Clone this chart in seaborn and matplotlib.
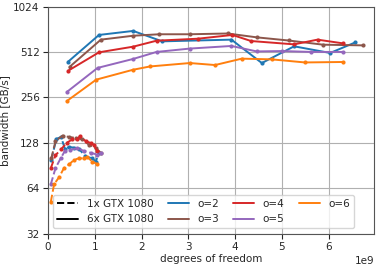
import numpy as np
import pandas as pd
import matplotlib
matplotlib.use("Agg")
import matplotlib.pyplot as plt
import seaborn as sns
from matplotlib.lines import Line2D
from matplotlib.ticker import ScalarFormatter, FixedLocator

# ordres polynomiaux et couleurs
orders = [2, 3, 4, 5, 6]
colors = {2: "#1f77b4", 3: "#8c564b", 4: "#d62728", 5: "#9467bd", 6: "#ff7f0e"}

# 6x GTX 1080 (lignes pleines), x en 1e9 degrés de liberté
multi_x = {
    2: [0.43, 1.09, 1.82, 2.44, 3.92, 4.57, 5.26, 6.03, 6.57],
    3: [0.46, 1.13, 1.82, 2.38, 3.03, 3.84, 4.46, 5.14, 5.88, 6.74],
    4: [0.43, 1.09, 1.82, 2.32, 3.21, 3.94, 4.34, 5.26, 5.76, 6.30],
    5: [0.40, 1.06, 1.82, 2.32, 3.03, 3.92, 4.46, 5.01, 5.63, 6.30],
    6: [0.40, 1.03, 1.82, 2.18, 3.03, 3.57, 4.14, 4.78, 5.49, 6.30],
}
multi_bw = {
    2: [442, 665, 707, 603, 619, 433, 559, 505, 594],
    3: [408, 619, 657, 672, 672, 680, 641, 611, 573, 567],
    4: [385, 510, 556, 609, 628, 665, 606, 576, 619, 585],
    5: [278, 402, 461, 513, 540, 562, 517, 520, 513, 513],
    6: [242, 336, 391, 411, 433, 420, 463, 458, 437, 440],
}

# 1x GTX 1080 (lignes pointillées)
single_x = {
    2: [0.07, 0.18, 0.28, 0.36, 0.45, 0.56, 0.66, 0.80, 0.95, 1.02, 1.09],
    3: [0.07, 0.16, 0.31, 0.45, 0.59, 0.73, 0.88, 1.02, 1.13],
    4: [0.06, 0.16, 0.28, 0.40, 0.52, 0.63, 0.68, 0.81, 0.91, 0.98, 1.05],
    5: [0.06, 0.16, 0.27, 0.36, 0.48, 0.63, 0.77, 0.91, 1.05, 1.13],
    6: [0.06, 0.13, 0.24, 0.34, 0.45, 0.56, 0.66, 0.77, 0.84, 0.95, 1.04],
}
single_bw = {
    2: [99, 136, 140, 117, 120, 119, 117, 104, 101, 96, 110],
    3: [101, 131, 143, 140, 138, 135, 124, 118, 110],
    4: [87, 106, 116, 128, 135, 135, 142, 131, 128, 124, 113],
    5: [68, 87, 101, 113, 115, 118, 113, 110, 107, 110],
    6: [52, 68, 76, 87, 92, 99, 101, 101, 103, 96, 93],
}

yticks = [32, 64, 128, 256, 512, 1024]

sns.set_style("ticks")
plt.rcParams["font.family"] = ["DejaVu Sans"]
plt.rcParams["font.size"] = 7.5
plt.rcParams["xtick.major.pad"] = 2.5
plt.rcParams["ytick.major.pad"] = 2.5

fig, ax = plt.subplots(figsize=(3.81, 2.67), dpi=100)

for o in orders:
    df1 = pd.DataFrame({"dof": np.array(single_x[o]) * 1e9, "bw": single_bw[o]})
    sns.lineplot(data=df1, x="dof", y="bw", ax=ax, color=colors[o], linestyle="--",
                 marker="o", markersize=3, markeredgewidth=0, linewidth=1.4, legend=False)
    df6 = pd.DataFrame({"dof": np.array(multi_x[o]) * 1e9, "bw": multi_bw[o]})
    sns.lineplot(data=df6, x="dof", y="bw", ax=ax, color=colors[o], linestyle="-",
                 marker="o", markersize=3, markeredgewidth=0, linewidth=1.4, legend=False)

ax.set_yscale("log", base=2)
ax.yaxis.set_major_locator(FixedLocator(yticks))
ax.yaxis.set_major_formatter(ScalarFormatter())
ax.yaxis.set_minor_locator(FixedLocator([]))
ax.set_ylim(32, 1024)
ax.set_xlim(0, 6.97e9)
ax.grid(True, color="#b0b0b0", linewidth=0.8)
for s in ax.spines.values():
    s.set_color("#555555")

ax.set_xlabel("degrees of freedom", labelpad=1.5)
ax.set_ylabel("bandwidth [GB/s]", labelpad=2)

handles = [Line2D([], [], color="black", linestyle="--", linewidth=1.4),
           Line2D([], [], color="black", linestyle="-", linewidth=1.4)]
labels = ["1x GTX 1080", "6x GTX 1080"]
for o in orders:
    handles.append(Line2D([], [], color=colors[o], linewidth=1.4))
    labels.append(f"o={o}")
ax.legend(handles, labels, ncol=4, loc="lower left", fontsize=7.5,
          handlelength=2.0, columnspacing=1.4)

fig.subplots_adjust(left=0.126, right=0.982, top=0.975, bottom=0.125)
fig.savefig("out.png", dpi=100)
